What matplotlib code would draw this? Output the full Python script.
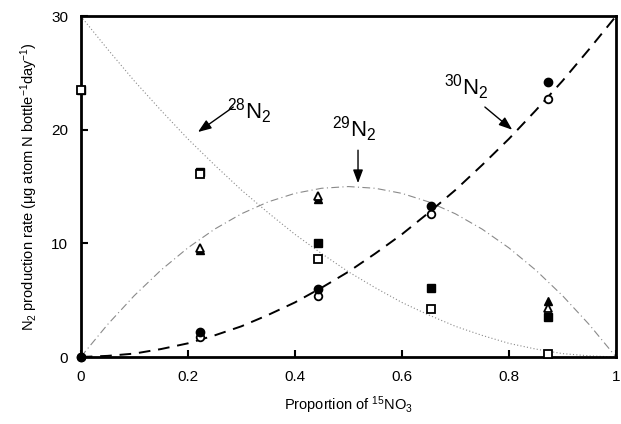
import matplotlib
matplotlib.use("Agg")
import matplotlib.pyplot as plt

plt.rcParams['font.family'] = ['Liberation Sans', 'DejaVu Sans']
plt.rcParams['mathtext.fontset'] = 'custom'
plt.rcParams['mathtext.rm'] = 'Liberation Sans'
plt.rcParams['mathtext.it'] = 'Liberation Sans'

# measured proportions of 15NO3
x_pts = [0.0, 0.222, 0.443, 0.655, 0.873]

# 28N2 (squares)
n28_open = [23.5, 16.1, 8.6, 4.2, 0.3]
n28_filled = [23.5, 16.3, 10.0, 6.1, 3.5]
# 29N2 (triangles)
x29 = [0.222, 0.443, 0.873]
n29_open = [9.6, 14.2, 4.3]
n29_filled = [9.4, 13.9, 4.9]
# 30N2 (circles)
n30_open = [0.0, 1.8, 5.4, 12.6, 22.7]
n30_filled = [0.0, 2.2, 6.0, 13.3, 24.2]

# expected curves
x_curve = [0.0, 0.05, 0.1, 0.15, 0.2, 0.25, 0.3, 0.35, 0.4, 0.45, 0.5,
           0.55, 0.6, 0.65, 0.7, 0.75, 0.8, 0.85, 0.9, 0.95, 1.0]
c30 = [0.0, 0.1, 0.3, 0.7, 1.2, 1.9, 2.7, 3.7, 4.8, 6.1, 7.5,
       9.1, 10.8, 12.7, 14.7, 16.9, 19.2, 21.7, 24.3, 27.1, 30.0]
c28 = [30.0, 27.1, 24.3, 21.7, 19.2, 16.9, 14.7, 12.7, 10.8, 9.1, 7.5,
       6.1, 4.8, 3.7, 2.7, 1.9, 1.2, 0.7, 0.3, 0.1, 0.0]
c29 = [0.0, 2.85, 5.4, 7.65, 9.6, 11.25, 12.6, 13.65, 14.4, 14.85, 15.0,
       14.85, 14.4, 13.65, 12.6, 11.25, 9.6, 7.65, 5.4, 2.85, 0.0]

x_ticks = [0, 0.2, 0.4, 0.6, 0.8, 1]
x_ticklabels = ['0', '0.2', '0.4', '0.6', '0.8', '1']
y_ticks = [0, 10, 20, 30]

fig = plt.figure(figsize=(6.21, 4.24), dpi=100)
ax = fig.add_axes([0.130, 0.158, 0.862, 0.804])

ax.plot(x_curve, c28, color='#8a8a8a', lw=0.8, ls=(0, (1, 2)), zorder=1)
ax.plot(x_curve, c29, color='#8a8a8a', lw=0.8, ls=(0, (7, 3, 1, 3)), zorder=1)
ax.plot(x_curve, c30, color='black', lw=1.4, ls=(0, (6, 4)), zorder=1)

ms = 5.5
mew = 1.3
ax.plot(x_pts, n28_filled, 's', color='black', ms=ms, zorder=3, clip_on=False)
ax.plot(x_pts, n28_open, 's', mfc='white', mec='black', mew=mew, ms=ms, zorder=4, clip_on=False)
ax.plot(x29, n29_filled, '^', color='black', ms=ms + 0.5, zorder=3, clip_on=False)
ax.plot(x29, n29_open, '^', mfc='white', mec='black', mew=mew, ms=ms + 0.5, zorder=4, clip_on=False)
ax.plot(x_pts, n30_open, 'o', mfc='white', mec='black', mew=mew, ms=ms, zorder=3, clip_on=False)
ax.plot(x_pts, n30_filled, 'o', color='black', ms=ms + 0.5, zorder=4, clip_on=False)

ax.set_xlim(0, 1)
ax.set_ylim(0, 30)
ax.set_xticks(x_ticks)
ax.set_xticklabels(x_ticklabels)
ax.set_yticks(y_ticks)
ax.tick_params(direction='in', length=5, width=1.5, labelsize=11, color='black',
               top=False, right=False, pad=9)
for s in ax.spines.values():
    s.set_linewidth(2)

ax.set_xlabel('Proportion of $^{15}$NO$_3$', fontsize=10.5, labelpad=8)
ax.set_ylabel('N$_2$ production rate ($\\mu$g atom N bottle$^{-1}$day$^{-1}$)', fontsize=10.5, labelpad=8)

arrowprops = dict(arrowstyle='-|>,head_length=0.8,head_width=0.3', color='black', lw=1.0,
                  shrinkA=0, shrinkB=0)
ax.annotate('', xy=(0.219, 19.8), xytext=(0.285, 22.0), arrowprops=arrowprops)
ax.text(0.315, 21.6, '$^{28}$N$_2$', fontsize=16, ha='center', va='center')
ax.annotate('', xy=(0.518, 15.3), xytext=(0.518, 18.2), arrowprops=arrowprops)
ax.text(0.51, 20.0, '$^{29}$N$_2$', fontsize=16, ha='center', va='center')
ax.annotate('', xy=(0.806, 20.0), xytext=(0.755, 22.0), arrowprops=arrowprops)
ax.text(0.72, 23.7, '$^{30}$N$_2$', fontsize=16, ha='center', va='center')

fig.savefig('out.png', dpi=100)
